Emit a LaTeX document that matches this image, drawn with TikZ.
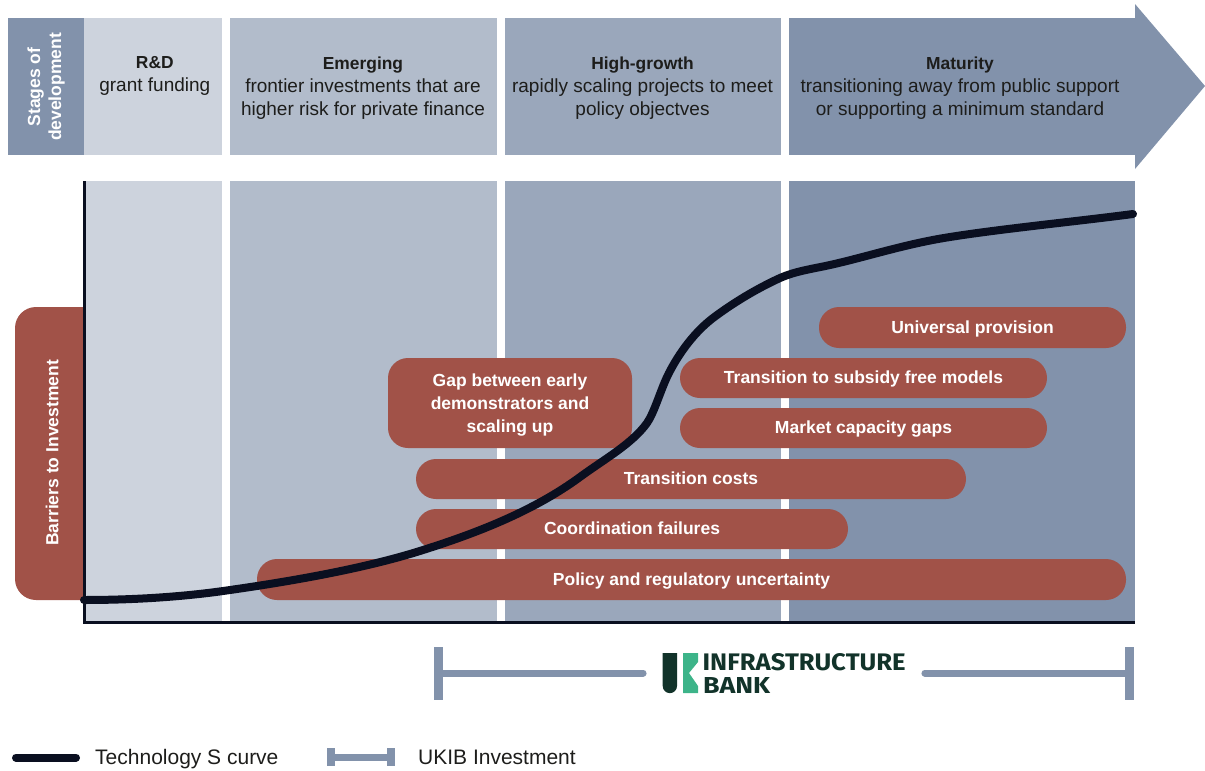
\documentclass[tikz,border=0pt]{standalone}
\usepackage{fontspec}
\setmainfont{Liberation Sans}
\newfontfamily\logofont{Fira Sans}
\definecolor{band1}{HTML}{CDD3DD}
\definecolor{band2}{HTML}{B2BCCB}
\definecolor{band3}{HTML}{9AA7BB}
\definecolor{band4}{HTML}{8292AB}
\definecolor{pillred}{HTML}{A15248}
\definecolor{inkdark}{HTML}{0A0F20}
\definecolor{txt}{HTML}{1D1D1B}
\definecolor{logodark}{HTML}{12332A}
\definecolor{logogreen}{HTML}{3DB489}
\newcommand{\pst}{\rule[-6pt]{0pt}{23pt}}
\newcommand{\stagehead}[1]{{\fontsize{17.4}{23}\selectfont\bfseries #1}}
\tikzset{
  bandbox/.style={draw=none,inner sep=0,outer sep=0,anchor=north west},
  stage/.style={text=txt,align=center,font=\fontsize{19}{23}\selectfont,inner sep=0},
  pill/.style={fill=pillred,draw=none,inner sep=0,outer sep=0,anchor=north west,rounded corners=20pt,text=white,align=center,font=\bfseries\fontsize{17.5}{23}\selectfont},
  sidelab/.style={text=white,align=center,rotate=90,font=\bfseries\fontsize{17.5}{21}\selectfont,inner sep=0},
  legendlab/.style={text=txt,anchor=base west,font=\fontsize{21}{24}\selectfont,inner sep=0},
  scurve/.style={draw=inkdark,line width=8pt,line cap=round,line join=round},
  axisline/.style={draw=inkdark,line width=3pt},
  ukib/.style={draw=band4,line width=7pt},
  ukibbar/.style={draw=band4,line width=9pt},
}
\newcommand{\bandat}[6]{\node[bandbox,fill=#6,minimum width=#3pt,minimum height=#4pt] (#1) at (#2,#5) {};}
\begin{document}
\begin{tikzpicture}[x=1pt,y=-1pt]
\useasboundingbox (0,0) rectangle (1205,771);
% top arrow
\node[bandbox,fill=band4,minimum width=76pt,minimum height=137pt] (stagelab) at (8,18) {};
\bandat{top1}{84}{138}{137}{18}{band1}
\bandat{top2}{230}{267}{137}{18}{band2}
\bandat{top3}{505}{276}{137}{18}{band3}
\bandat{top4}{789}{346}{137}{18}{band4}
\fill[band4] (1135,4) -- (1205,86) -- (1135,169) -- cycle;
\node[sidelab] (stagetext) at (46,87) {Stages of\\development};
\node[stage] (t1) at (154.8,76) {\stagehead{R\&D}\\grant funding};
\node[stage] (t2) at (363,88) {\stagehead{Emerging}\\frontier investments that are\\higher risk for private finance};
\node[stage] (t3) at (642.5,88) {\stagehead{High-growth}\\rapidly scaling projects to meet\\policy objectves};
\node[stage] (t4) at (960,88) {\stagehead{Maturity}\\transitioning away from public support\\or supporting a minimum standard};
% lower bands
\bandat{low1}{84}{138}{441}{181}{band1}
\bandat{low2}{230}{267}{441}{181}{band2}
\bandat{low3}{505}{276}{441}{181}{band3}
\bandat{low4}{789}{346}{441}{181}{band4}
% barriers tab
\fill[pillred] (84,307) -- (36,307) arc[start angle=-90,end angle=-180,radius=21] -- (15,579) arc[start angle=180,end angle=90,radius=21] -- (84,600) -- cycle;
\node[sidelab] (barriers) at (52,453) {Barriers to Investment};
% pills
\node[pill,minimum width=307pt,minimum height=41pt] (p1) at (819,307) {\pst Universal provision};
\node[pill,minimum width=367pt,minimum height=40pt] (p2) at (680,358) {\pst Transition to subsidy free models};
\node[pill,minimum width=367pt,minimum height=40pt] (p3) at (680,408) {\pst Market capacity gaps};
\node[pill,minimum width=244pt,minimum height=90pt] (p4) at (388,358) {\rule{0pt}{16pt}Gap between early\\demonstrators and\\scaling up};
\node[pill,minimum width=550pt,minimum height=40pt] (p5) at (416,459) {\pst Transition costs};
\node[pill,minimum width=432pt,minimum height=40pt] (p6) at (416,509) {\pst Coordination failures};
\node[pill,minimum width=869pt,minimum height=41pt] (p7) at (257,559) {\pst Policy and regulatory uncertainty};
% axes
\coordinate (axtop) at (84,181);
\coordinate (axorigin) at (84,622);
\coordinate (axright) at (1135,622);
\draw[axisline] (axtop) -- (axorigin) -- (axright);
% S curve
\coordinate (scstart) at (84,600);
\coordinate (scend) at (1133,214);
\draw[scurve] (scstart)
  .. controls (140,600) and (190,596) .. (230,590)
  .. controls (300,580) and (370,567) .. (423,550)
  .. controls (480,532) and (535,510) .. (580,477)
  .. controls (603,460) and (632,444) .. (647,423)
  .. controls (654,413) and (660,392) .. (667,377)
  .. controls (676,358) and (692,334) .. (713,318)
  .. controls (733,303) and (756,289) .. (780,278)
  .. controls (796,271) and (812,269) .. (830,265)
  .. controls (868,256.5) and (905,244) .. (950,237)
  .. controls (1000,229) and (1080,221) .. (scend);
% bracket
\coordinate (bl) at (443,673);
\coordinate (blend) at (643,673);
\coordinate (brstart) at (925,673);
\coordinate (br) at (1125,673);
\draw[ukib] (bl) -- (blend);
\draw[ukib] (brstart) -- (br);
\draw[ukib,line cap=round] (blend) -- ++(0.1,0);
\draw[ukib,line cap=round] (brstart) -- ++(-0.1,0);
\coordinate (bl1) at (438.5,647); \coordinate (bl2) at (438.5,700);
\coordinate (br1) at (1129.5,647); \coordinate (br2) at (1129.5,700);
\draw[ukibbar] (bl1) -- (bl2);
\draw[ukibbar] (br1) -- (br2);
% logo
\fill[logodark] (662.7,653) -- (677,653) -- (677,686) arc[start angle=0,end angle=180,radius=7.15] -- cycle;
\fill[logogreen] (683,653) -- (698,653) -- (698,662) -- (689,673) -- (698,686) -- (698,693) -- (683,693) -- cycle;
\node[inner sep=0,anchor=north west,text=logodark] (logo1) at (702.5,653) {\resizebox{203pt}{17pt}{\logofont\bfseries INFRASTRUCTURE}};
\node[inner sep=0,anchor=north west,text=logodark] (logo2) at (703,677) {\resizebox{67pt}{16pt}{\logofont\bfseries BANK}};
% legend
\coordinate (la) at (16,757.5);
\coordinate (lb) at (76,757.5);
\draw[scurve] (la) -- (lb);
\node[legendlab] (l1) at (95,764) {Technology S curve};
\coordinate (lc) at (331,757);
\coordinate (ld) at (391,757);
\draw[ukib] (lc) -- (ld);
\coordinate (lc1) at (330.5,748); \coordinate (lc2) at (330.5,766);
\coordinate (ld1) at (391,748); \coordinate (ld2) at (391,766);
\draw[draw=band4,line width=8pt] (lc1) -- (lc2);
\draw[draw=band4,line width=8pt] (ld1) -- (ld2);
\node[legendlab] (l2) at (418,764) {UKIB Investment};
\end{tikzpicture}
\end{document}
